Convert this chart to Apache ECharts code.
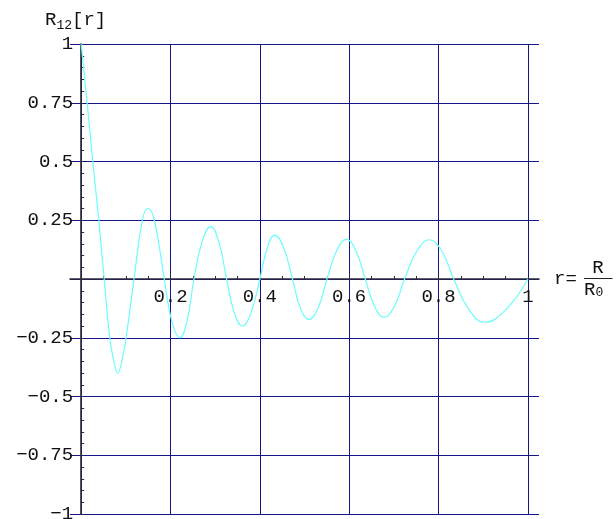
<!DOCTYPE html>
<html>
<head>
<meta charset="utf-8">
<script src="https://cdn.jsdelivr.net/npm/echarts@6/dist/echarts.min.js"></script>
<style>
html,body{margin:0;padding:0;background:#fff;}
#chart{width:616px;height:519px;}
</style>
</head>
<body>
<div id="chart"></div>
<script>
// ---- data ----
const rValues = [0, 0.0134, 0.026, 0.0395, 0.0514, 0.064, 0.072, 0.082, 0.092, 0.1006,
  0.1184, 0.137, 0.1497, 0.164, 0.186, 0.203, 0.221, 0.237, 0.2525, 0.271,
  0.290, 0.308, 0.3256, 0.343, 0.361, 0.380, 0.400, 0.417, 0.4335, 0.453,
  0.473, 0.491, 0.510, 0.530, 0.5504, 0.572, 0.5937, 0.615, 0.636, 0.657,
  0.678, 0.701, 0.724, 0.752, 0.779, 0.807, 0.834, 0.868, 0.903, 0.951, 1.0];
const R12Values = [1, 0.75, 0.5, 0.25, 0, -0.25, -0.34, -0.401, -0.34, -0.25,
  0, 0.25, 0.301, 0.25, 0, -0.18, -0.25, -0.18, 0, 0.16,
  0.223, 0.16, 0, -0.145, -0.2, -0.145, 0, 0.135, 0.187, 0.135,
  0, -0.125, -0.172, -0.125, 0, 0.12, 0.169, 0.12, 0, -0.117,
  -0.163, -0.117, 0, 0.12, 0.167, 0.12, 0, -0.13, -0.184, -0.13, 0];
const xTickValues = [0.2, 0.4, 0.6, 0.8, 1];
const xTickLabels = ['0.2', '0.4', '0.6', '0.8', '1'];
const yTickValues = [1, 0.75, 0.5, 0.25, -0.25, -0.5, -0.75, -1];
const yTickLabels = ['1', '0.75', '0.5', '0.25', '\u22120.25', '\u22120.5', '\u22120.75', '\u22121'];
const yAxisTitle = ['R', '12', '[r]'];
const xAxisTitle = ['r', '=', 'R', 'R', '0'];

// ---- chart ----
const seriesData = rValues.map((r, i) => [r, R12Values[i]]);
const FONT = '"Courier New", "Liberation Mono", monospace';
const GRIDC = '#141488';
const AXISC = '#2a2a3a';
const fs = 19;

const G_TOP = 44, G_H = 470;
const X_LEFT = 70, X_W = 469;        // x range -0.025 .. 1.025
const X0 = 81.17, X1W = 446.67;      // x range 0 .. 1

function labelFor(values, labels) {
  return function (v) {
    for (let i = 0; i < values.length; i++) {
      if (Math.abs(values[i] - v) < 1e-9) return labels[i];
    }
    return '';
  };
}

const chart = echarts.init(document.getElementById('chart'), null, {renderer: 'canvas'});
chart.setOption({
  animation: false,
  backgroundColor: '#ffffff',
  grid: [
    {left: X_LEFT, top: G_TOP, width: X_W, height: G_H, containLabel: false, outerBoundsMode: 'none'},
    {left: X0, top: G_TOP, width: X1W, height: G_H, containLabel: false, outerBoundsMode: 'none'}
  ],
  xAxis: [
    {
      type: 'value', gridIndex: 0, min: -0.025, max: 1.025, position: 'bottom', offset: -G_H / 2,
      axisLine: {show: true, onZero: false, lineStyle: {color: AXISC, width: 1.6}},
      axisTick: {show: false}, axisLabel: {show: false}, splitLine: {show: false}
    },
    {
      type: 'value', gridIndex: 1, min: 0, max: 1, interval: 0.2, position: 'bottom', offset: -G_H / 2,
      axisLine: {show: false, onZero: false},
      axisTick: {show: true, inside: true, length: 3, lineStyle: {color: AXISC, width: 1}},
      minorTick: {show: true, splitNumber: 4, length: 3, lineStyle: {color: AXISC, width: 1}},
      axisLabel: {
        show: true, margin: 8, color: '#111', fontFamily: FONT, fontSize: fs,
        formatter: labelFor(xTickValues, xTickLabels), showMinLabel: true, showMaxLabel: true
      },
      splitLine: {show: true, lineStyle: {color: GRIDC, width: 1}}
    }
  ],
  yAxis: [
    {
      type: 'value', gridIndex: 0, min: -1, max: 1, interval: 0.25, position: 'left', offset: -(X0 - X_LEFT),
      axisLine: {show: true, onZero: false, lineStyle: {color: AXISC, width: 1.6}},
      axisTick: {show: true, inside: true, length: 3, lineStyle: {color: AXISC, width: 1}},
      minorTick: {show: true, splitNumber: 5, length: 3, lineStyle: {color: AXISC, width: 1}},
      axisLabel: {
        show: true, margin: 8, color: '#111', fontFamily: FONT, fontSize: fs,
        formatter: labelFor(yTickValues, yTickLabels),
        showMinLabel: true, showMaxLabel: true
      },
      splitLine: {show: true, lineStyle: {color: GRIDC, width: 1}}
    },
    {
      type: 'value', gridIndex: 1, min: -1, max: 1, show: false
    }
  ],
  graphic: [
    {
      type: 'text', left: 45, top: 10, z: 10,
      style: {
        text: '{a|' + yAxisTitle[0] + '}{s|' + yAxisTitle[1] + '}{a|' + yAxisTitle[2] + '}',
        rich: {
          a: {fontFamily: FONT, fontSize: fs, fill: '#111', verticalAlign: 'bottom'},
          s: {fontFamily: FONT, fontSize: 13, fill: '#111', verticalAlign: 'bottom', padding: [0, 0, -3, 0]}
        }
      }
    },
    {
      type: 'text', x: 554, y: 279, z: 10,
      style: {text: xAxisTitle[0] + xAxisTitle[1], fontFamily: FONT, fontSize: fs, fill: '#111', verticalAlign: 'middle', align: 'left'}
    },
    {
      type: 'text', x: 598, y: 268, z: 10,
      style: {text: xAxisTitle[2], fontFamily: FONT, fontSize: fs, fill: '#111', verticalAlign: 'middle', align: 'center'}
    },
    {
      type: 'line', z: 10,
      shape: {x1: 584, y1: 278.5, x2: 612.5, y2: 278.5},
      style: {stroke: '#222', lineWidth: 1}
    },
    {
      type: 'text', x: 584, y: 290, z: 10,
      style: {
        text: '{a|' + xAxisTitle[3] + '}{s|' + xAxisTitle[4] + '}',
        verticalAlign: 'middle', align: 'left',
        rich: {
          a: {fontFamily: FONT, fontSize: fs, fill: '#111'},
          s: {fontFamily: FONT, fontSize: 13, fill: '#111', padding: [6, 0, 0, 0]}
        }
      }
    }
  ],
  series: [
    {
      type: 'line', xAxisIndex: 0, yAxisIndex: 0,
      data: seriesData, showSymbol: false, smooth: 0.45,
      lineStyle: {color: '#6ffcfc', width: 1.2}, z: 5, clip: false
    }
  ]
});
</script>
</body>
</html>
